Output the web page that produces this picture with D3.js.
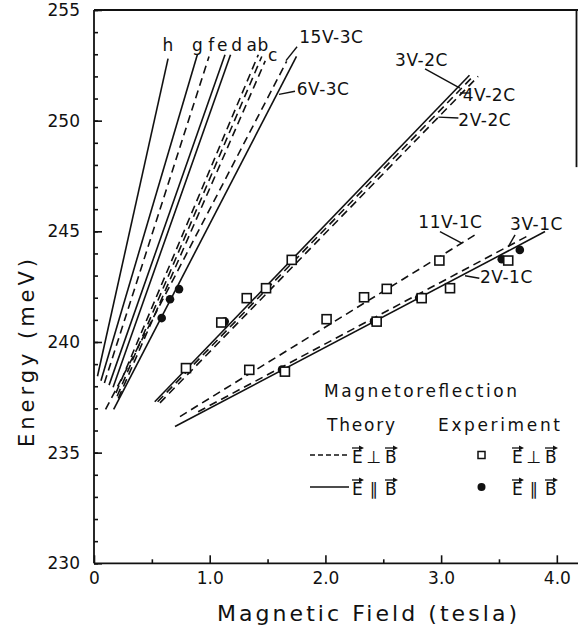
<!DOCTYPE html>
<html>
<head>
<meta charset="utf-8">
<script src="https://cdnjs.cloudflare.com/ajax/libs/d3/7.8.5/d3.min.js"></script>
<style>
body { margin: 0; background: #fff; }
text { font-family: "DejaVu Sans", sans-serif; fill: #111; }
</style>
</head>
<body>
<script>
// theory lines (field in tesla, energy in meV); "par" = E || B, "perp" = E perp B
var lineNames = ["h", "g", "f", "e", "d", "a", "b", "c", "15V-3C", "6V-3C",
                 "3V-2C", "4V-2C", "2V-2C", "11V-1C", "3V-1C", "2V-1C"];
var linePol   = ["par", "par", "perp", "par", "par", "perp", "perp", "perp", "perp", "par",
                 "par", "perp", "perp", "perp", "perp", "par"];
var lineB0 = [0.03, 0.06, 0.09, 0.13, 0.165, 0.19, 0.20, 0.21, 0.10, 0.17,
              0.525, 0.55, 0.57, 0.743, 0.90, 0.70];
var lineE0 = [238.45, 238.25, 238.15, 238.05, 237.95, 237.7, 237.55, 237.45, 236.95, 236.95,
              237.3, 237.3, 237.25, 236.63, 236.85, 236.18];
var lineB1 = [0.64, 0.893, 0.994, 1.132, 1.18, 1.42, 1.45, 1.48, 1.665, 1.75,
              3.245, 3.285, 3.32, 3.293, 3.74, 3.898];
var lineE1 = [252.8, 252.98, 252.9, 252.98, 252.98, 252.98, 252.9, 252.7, 252.68, 252.9,
              252.05, 252.05, 252.0, 244.84, 244.77, 244.99];

// experiment, E perp B (open squares)
var perpB = [0.795, 1.10, 1.32, 1.487, 1.709,
             1.342, 2.01, 2.334, 2.53, 2.985,
             1.65, 2.443, 2.832, 3.077, 3.58];
var perpE = [238.82, 240.88, 241.98, 242.43, 243.71,
             238.74, 241.03, 242.02, 242.4, 243.68,
             238.66, 240.92, 241.98, 242.43, 243.68];
// experiment, E || B (filled circles)
var parB = [0.585, 0.657, 0.735, 1.13, 1.625, 2.42, 2.81, 3.524, 3.68];
var parE = [241.08, 241.93, 242.39, 240.92, 238.75, 240.94, 242.0, 243.74, 244.16];

// line labels
var labelText = ["h", "g", "f", "e", "d", "a", "b", "c", "15V-3C", "6V-3C",
                 "3V-2C", "4V-2C", "2V-2C", "11V-1C", "3V-1C", "2V-1C"];
var labelB = [0.64, 0.895, 1.016, 1.111, 1.236, 1.366, 1.461, 1.547, 1.774, 1.752,
              2.602, 3.187, 3.149, 2.803, 3.596, 3.336];
var labelE = [253.13, 253.13, 253.13, 253.13, 253.13, 253.13, 253.13, 252.71, 253.51, 251.17,
              252.45, 250.87, 249.74, 245.14, 245.07, 242.66];
var labelAnchor = ["middle", "middle", "middle", "middle", "middle", "middle", "middle", "middle",
                   "start", "start", "start", "start", "start", "start", "start", "start"];
// leader lines from labels
var leadB0 = [1.755, 1.737, 2.861, 3.163, 2.976, 2.99, 3.639, 3.207];
var leadE0 = [253.34, 251.33, 252.34, 251.25, 250.16, 244.99, 244.84, 242.99];
var leadB1 = [1.659, 1.599, 3.163, 3.25, 3.149, 3.178, 3.581, 3.33];
var leadE1 = [252.71, 251.19, 251.47, 251.25, 250.12, 244.47, 244.31, 242.88];

var yMajor = [230, 235, 240, 245, 250, 255];
var yMinor = d3.range(230, 256, 1);
var xMajor = [0, 1, 2, 3, 4];
var xMajorLabels = ["0", "1.0", "2.0", "3.0", "4.0"];
var xMinor = [0.5, 1.5, 2.5, 3.5];

var W = 578, H = 632;
var svg = d3.select("body").append("svg")
    .attr("width", W)
    .attr("height", H);

var x = d3.scaleLinear().domain([0, 4.17]).range([94, 576.5]);
var y = d3.scaleLinear().domain([230, 255]).range([563.3, 10]);

// frame (the scan cuts the right border short)
var fr = svg.append("g").attr("stroke", "#111").attr("stroke-width", 1.8).attr("fill", "none");
fr.append("line").attr("x1", x(0)).attr("x2", x(0)).attr("y1", y(255)).attr("y2", y(230));
fr.append("line").attr("x1", x(0)).attr("x2", W).attr("y1", y(230)).attr("y2", y(230));
fr.append("line").attr("x1", x(0)).attr("x2", W).attr("y1", y(255)).attr("y2", y(255));
fr.append("line").attr("x1", x(4.17)).attr("x2", x(4.17)).attr("y1", y(255)).attr("y2", y(247.9));

// axes, ticks pointing inward
function styleAxis(g) {
  g.select(".domain").remove();
  g.selectAll(".tick line").attr("stroke", "#111").attr("stroke-width", 1.6);
  g.selectAll(".tick text").style("font-size", "17px").attr("fill", "#111");
}
svg.append("g")
    .attr("transform", "translate(" + x(0) + ",0)")
    .call(d3.axisLeft(y).tickValues(yMinor).tickSize(-4).tickFormat(""))
    .call(styleAxis);
svg.append("g")
    .attr("transform", "translate(" + x(0) + ",0)")
    .call(d3.axisLeft(y).tickValues(yMajor).tickSize(-8).tickPadding(14).tickFormat(d3.format("d")))
    .call(styleAxis);
svg.append("g")
    .attr("transform", "translate(0," + y(230) + ")")
    .call(d3.axisBottom(x).tickValues(xMinor).tickSize(-4).tickFormat(""))
    .call(styleAxis);
svg.append("g")
    .attr("transform", "translate(0," + y(230) + ")")
    .call(d3.axisBottom(x).tickValues(xMajor).tickSize(-8).tickPadding(9)
      .tickFormat(function(d, i) { return xMajorLabels[i]; }))
    .call(styleAxis);

// axis titles
svg.append("text")
    .attr("transform", "translate(34,353) rotate(-90)")
    .attr("text-anchor", "middle")
    .attr("textLength", 188)
    .attr("lengthAdjust", "spacing")
    .style("font-size", "21px")
    .text("Energy (meV)");
svg.append("text")
    .attr("x", 367).attr("y", 621)
    .attr("text-anchor", "middle")
    .attr("textLength", 300)
    .attr("lengthAdjust", "spacing")
    .style("font-size", "22px")
    .text("Magnetic Field (tesla)");

// theory lines
var lines = d3.range(lineNames.length);
svg.append("g").selectAll("line")
  .data(lines)
  .join("line")
    .attr("x1", function(i) { return x(lineB0[i]); })
    .attr("y1", function(i) { return y(lineE0[i]); })
    .attr("x2", function(i) { return x(lineB1[i]); })
    .attr("y2", function(i) { return y(lineE1[i]); })
    .attr("stroke", "#111")
    .attr("stroke-width", 1.6)
    .attr("stroke-dasharray", function(i) { return linePol[i] == "perp" ? "8,5" : null; });

// leaders
svg.append("g").selectAll("line")
  .data(d3.range(leadB0.length))
  .join("line")
    .attr("x1", function(i) { return x(leadB0[i]); })
    .attr("y1", function(i) { return y(leadE0[i]); })
    .attr("x2", function(i) { return x(leadB1[i]); })
    .attr("y2", function(i) { return y(leadE1[i]); })
    .attr("stroke", "#111")
    .attr("stroke-width", 1.4);

// labels
svg.append("g").selectAll("text")
  .data(d3.range(labelText.length))
  .join("text")
    .attr("x", function(i) { return x(labelB[i]); })
    .attr("y", function(i) { return y(labelE[i]); })
    .attr("text-anchor", function(i) { return labelAnchor[i]; })
    .style("font-size", "17px")
    .style("letter-spacing", "0.5px")
    .text(function(i) { return labelText[i]; });

// experimental points
svg.append("g").selectAll("circle")
  .data(d3.range(parB.length))
  .join("circle")
    .attr("cx", function(i) { return x(parB[i]); })
    .attr("cy", function(i) { return y(parE[i]); })
    .attr("r", 4.3)
    .attr("fill", "#111");
svg.append("g").selectAll("rect")
  .data(d3.range(perpB.length))
  .join("rect")
    .attr("x", function(i) { return x(perpB[i]) - 4.5; })
    .attr("y", function(i) { return y(perpE[i]) - 4.5; })
    .attr("width", 9)
    .attr("height", 9)
    .attr("fill", "#fff")
    .attr("stroke", "#111")
    .attr("stroke-width", 1.6);

// legend
var lg = svg.append("g");
lg.append("text").attr("x", 324).attr("y", 397).attr("textLength", 193)
  .attr("lengthAdjust", "spacing").style("font-size", "17px").text("Magnetoreflection");
lg.append("text").attr("x", 327).attr("y", 431).attr("textLength", 68)
  .attr("lengthAdjust", "spacing").style("font-size", "17px").text("Theory");
lg.append("text").attr("x", 438).attr("y", 431).attr("textLength", 122)
  .attr("lengthAdjust", "spacing").style("font-size", "17px").text("Experiment");

lg.append("line").attr("x1", 310).attr("x2", 349).attr("y1", 455).attr("y2", 455)
  .attr("stroke", "#111").attr("stroke-width", 1.4).attr("stroke-dasharray", "5,3");
lg.append("line").attr("x1", 310).attr("x2", 349).attr("y1", 487).attr("y2", 487)
  .attr("stroke", "#111").attr("stroke-width", 1.6);
lg.append("rect").attr("x", 478).attr("y", 451.5).attr("width", 7).attr("height", 7)
  .attr("fill", "#fff").attr("stroke", "#111").attr("stroke-width", 1.5);
lg.append("circle").attr("cx", 481.5).attr("cy", 487).attr("r", 4).attr("fill", "#111");

function vecLabel(x0, base, sym) {
  var g = lg.append("g");
  g.append("text").attr("x", x0).attr("y", base).style("font-size", "17px").text("E");
  g.append("text").attr("x", x0 + 22).attr("y", base).attr("text-anchor", "middle")
    .style("font-size", "17px").text(sym);
  g.append("text").attr("x", x0 + 33).attr("y", base).style("font-size", "17px").text("B");
  [[x0, x0 + 11], [x0 + 33, x0 + 45]].forEach(function(s) {
    var yy = base - 15;
    g.append("line").attr("x1", s[0]).attr("x2", s[1] - 2).attr("y1", yy).attr("y2", yy)
      .attr("stroke", "#111").attr("stroke-width", 1.3);
    g.append("path")
      .attr("d", "M" + (s[1] + 1) + "," + yy + "L" + (s[1] - 4) + "," + (yy - 2.5) + "L" + (s[1] - 4) + "," + (yy + 2.5) + "Z")
      .attr("fill", "#111");
  });
}
vecLabel(352, 463, "\u22A5");
vecLabel(352, 495, "\u2225");
vecLabel(512, 463, "\u22A5");
vecLabel(512, 495, "\u2225");
</script>
</body>
</html>
